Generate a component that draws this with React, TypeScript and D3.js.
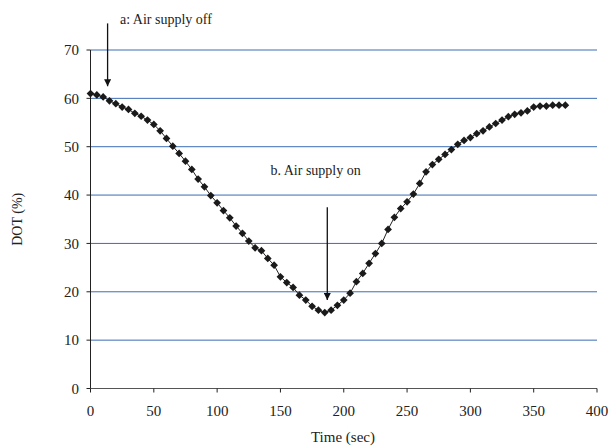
import React from "react";
import * as d3 from "d3";

const times: number[] = [
  0, 5, 10, 15, 20, 25, 30, 35, 40, 45, 50, 55, 60, 65, 70, 75, 80, 85, 90, 95,
  100, 105, 110, 115, 120, 125, 130, 135, 140, 145, 150, 155, 160, 165, 170, 175,
  180, 185, 190, 195, 200, 205, 210, 215, 220, 225, 230, 235, 240, 245, 250, 255,
  260, 265, 270, 275, 280, 285, 290, 295, 300, 305, 310, 315, 320, 325, 330, 335,
  340, 345, 350, 355, 360, 365, 370, 375,
];
const dot: number[] = [
  61.0, 60.7, 60.3, 59.5, 58.9, 58.2, 57.7, 56.9, 56.3, 55.5, 54.6, 53.3, 51.7,
  50.1, 48.6, 47.0, 45.3, 43.3, 41.7, 39.9, 38.4, 36.8, 35.3, 33.6, 32.1, 30.5,
  29.1, 28.5, 26.9, 25.5, 23.1, 21.9, 20.9, 19.3, 18.3, 17.0, 16.2, 15.7, 16.2,
  17.2, 18.3, 19.7, 22.1, 23.8, 25.9, 27.9, 30.0, 32.9, 35.4, 37.2, 38.6, 40.2,
  42.4, 44.8, 46.3, 47.4, 48.4, 49.4, 50.5, 51.3, 51.9, 52.7, 53.3, 54.1, 54.8,
  55.5, 56.2, 56.7, 57.0, 57.4, 58.2, 58.4, 58.4, 58.6, 58.6, 58.6,
];
const xTicks: number[] = [0, 50, 100, 150, 200, 250, 300, 350, 400];
const yTicks: number[] = [0, 10, 20, 30, 40, 50, 60, 70];
const annotations = [
  { text: "a: Air supply off", t: 13.5, top: 75.5, tip: 62.5 },
  { text: "b. Air supply on", t: 187, top: 37.5, tip: 18.3 },
];

export default function App() {
  const W = 609;
  const H = 448;
  const x = d3.scaleLinear().domain([0, 400]).range([90.5, 597]);
  const y = d3.scaleLinear().domain([0, 70]).range([388.5, 50]);
  const line = d3
    .line<number>()
    .x((_, i) => x(times[i]))
    .y((d) => y(d));
  const diamond = d3.symbol().type(d3.symbolSquare).size(30)() as string;
  const font = "'Liberation Serif', 'Times New Roman', serif";

  const annPos = [
    { tx: 120, ty: 24 },
    { tx: 270.5, ty: 175 },
  ];

  return (
    <svg
      width={W}
      height={H}
      style={{ position: "absolute", left: 0, top: 0, background: "#fff" }}
      fontFamily={font}
    >
      {yTicks
        .filter((v) => v > 0)
        .map((v) => (
          <line
            key={"g" + v}
            x1={x(0)}
            x2={x(400)}
            y1={y(v)}
            y2={y(v)}
            stroke="#3a6db5"
            strokeWidth={1}
          />
        ))}
      <line x1={x(0)} x2={x(0)} y1={y(0)} y2={y(70)} stroke="#222" strokeWidth={1} />
      <line x1={x(0)} x2={x(400)} y1={y(0)} y2={y(0)} stroke="#555" strokeWidth={1} />
      {yTicks.map((v) => (
        <g key={"yt" + v}>
          <line x1={x(0) - 4} x2={x(0)} y1={y(v)} y2={y(v)} stroke="#222" />
          <text x={79} y={y(v)} dy="0.35em" textAnchor="end" fontSize={15} fill="#222">
            {v}
          </text>
        </g>
      ))}
      {xTicks.map((v) => (
        <g key={"xt" + v}>
          <line x1={x(v)} x2={x(v)} y1={y(0)} y2={y(0) + 4} stroke="#222" />
          <text x={x(v)} y={410.5} dy="0.35em" textAnchor="middle" fontSize={15} fill="#222">
            {v}
          </text>
        </g>
      ))}
      <text x={343} y={437} dy="0.35em" textAnchor="middle" fontSize={15} fill="#222">
        Time (sec)
      </text>
      <text
        transform={`translate(17,${(y(0) + y(70)) / 2}) rotate(-90)`}
        dy="0.35em"
        textAnchor="middle"
        fontSize={14}
        fill="#222"
      >
        DOT (%)
      </text>
      <path d={line(dot) || ""} fill="none" stroke="#222" strokeWidth={1} />
      {dot.map((d, i) => (
        <path
          key={"p" + i}
          d={diamond}
          transform={`translate(${x(times[i])},${y(d)}) rotate(45)`}
          fill="#1a1a1a"
        />
      ))}
      <defs>
        <marker
          id="ah"
          viewBox="0 0 10 10"
          refX={10}
          refY={5}
          markerWidth={7}
          markerHeight={7}
          orient="auto"
          markerUnits="userSpaceOnUse"
        >
          <path d="M0,0 L10,5 L0,10 z" fill="#111" />
        </marker>
      </defs>
      {annotations.map((a, i) => (
        <g key={"a" + i}>
          <line
            x1={x(a.t)}
            x2={x(a.t)}
            y1={y(a.top)}
            y2={y(a.tip)}
            stroke="#111"
            strokeWidth={1.3}
            markerEnd="url(#ah)"
          />
          <text x={annPos[i].tx} y={annPos[i].ty} fontSize={14} fill="#222">
            {a.text}
          </text>
        </g>
      ))}
    </svg>
  );
}
